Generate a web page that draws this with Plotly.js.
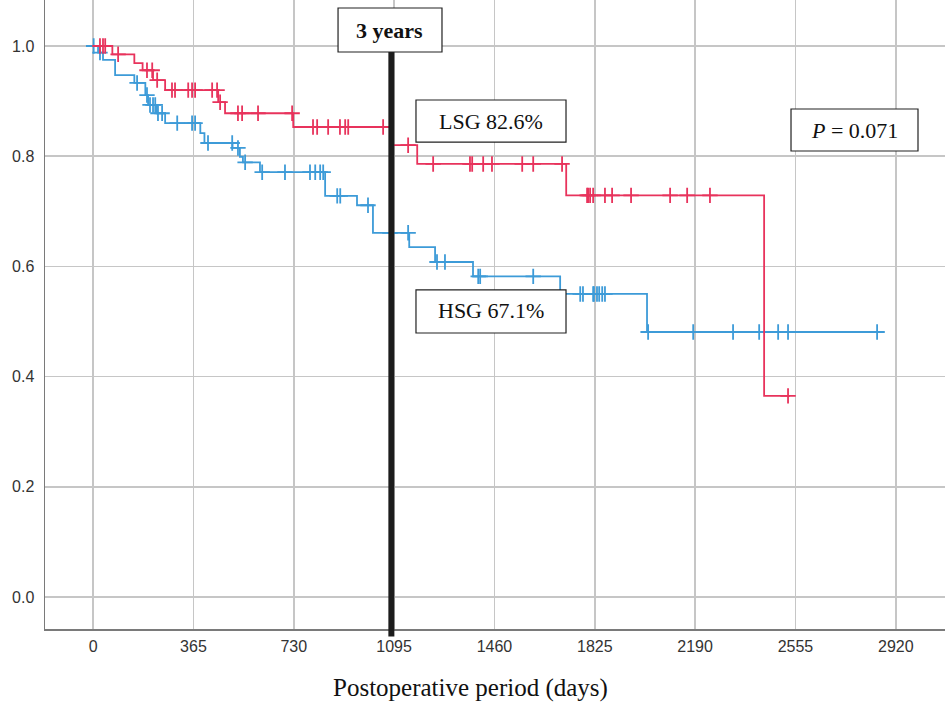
<!DOCTYPE html>
<html><head><meta charset="utf-8">
<script src="https://cdn.plot.ly/plotly-3.0.1.min.js"></script>
<style>html,body{margin:0;padding:0;background:#fff}#chart{width:945px;height:704px}</style>
</head><body><div id="chart"></div>
<script>
// Axis ticks
const xTickVals = [0, 365, 730, 1095, 1460, 1825, 2190, 2555, 2920];
const yTickVals = [0, 0.2, 0.4, 0.6, 0.8, 1.0];
const yTickText = ['0.0', '0.2', '0.4', '0.6', '0.8', '1.0'];
const threeYearLineDay = 1085;

// LSG (red) Kaplan-Meier: event days and survival after each event
const lsgEventDays = [70, 150, 180, 218, 262, 455, 480, 728, 1091, 1179, 1721, 2441];
const lsgEventSurv = [0.985, 0.969, 0.956, 0.938, 0.920, 0.898, 0.878, 0.853, 0.820, 0.786, 0.729, 0.365];
const lsgCensorDays = [25, 36, 44, 91, 196, 215, 233, 287, 298, 346, 360, 371, 433, 451, 462, 527, 542, 600, 724,
  800, 815, 855, 898, 917, 928, 1055, 1146, 1237, 1371, 1379, 1419, 1451, 1561, 1601, 1706, 1797, 1801, 1808,
  1819, 1862, 1888, 1957, 2099, 2161, 2244, 2528];
const lsgLastDay = 2535;

// HSG (blue) Kaplan-Meier
const hsgEventDays = [18, 36, 80, 150, 190, 200, 232, 262, 390, 405, 507, 534, 545, 607, 844, 960, 1018, 1150, 1244, 1382, 1699, 2015];
const hsgEventSurv = [0.988, 0.975, 0.947, 0.933, 0.911, 0.893, 0.878, 0.860, 0.842, 0.824, 0.815, 0.799, 0.789, 0.771, 0.728, 0.711, 0.661, 0.635, 0.608, 0.582, 0.550, 0.481];
const hsgCensorDays = [2, 25, 160, 196, 207, 218, 226, 236, 251, 306, 360, 371, 418, 506, 527, 553, 615, 698, 789, 808, 826, 837,
  888, 899, 1000, 1080, 1146, 1251, 1280, 1401, 1408, 1601, 1772, 1782, 1819, 1822, 1833, 1841, 1852, 1862,
  2019, 2183, 2328, 2423, 2492, 2528, 2852];
const hsgLastDay = 2874;

const labels = { lsg: 'LSG 82.6%', hsg: 'HSG 67.1%', p: '<i>P</i> = 0.071', years: '<b>3 years</b>', xTitle: 'Postoperative period (days)' };

const RED = '#e8335c', BLUE = '#3d9bd8';

function stepXY(days, surv, last) {
  return { x: [0].concat(days, [last]), y: [1].concat(surv, [surv[surv.length - 1]]) };
}
function survAt(t, days, surv) {
  let s = 1;
  for (let i = 0; i < days.length; i++) if (days[i] <= t) s = surv[i];
  return s;
}
const lsgStep = stepXY(lsgEventDays, lsgEventSurv, lsgLastDay);
const hsgStep = stepXY(hsgEventDays, hsgEventSurv, hsgLastDay);

const traces = [
  { x: hsgStep.x, y: hsgStep.y, mode: 'lines', line: { shape: 'hv', color: BLUE, width: 1.8 }, hoverinfo: 'skip' },
  { x: hsgCensorDays, y: hsgCensorDays.map(t => survAt(t, hsgEventDays, hsgEventSurv)), mode: 'markers',
    marker: { symbol: 'cross-thin', size: 11, line: { color: BLUE, width: 1.8 } }, hoverinfo: 'skip' },
  { x: lsgStep.x, y: lsgStep.y, mode: 'lines', line: { shape: 'hv', color: RED, width: 1.8 }, hoverinfo: 'skip' },
  { x: lsgCensorDays, y: lsgCensorDays.map(t => survAt(t, lsgEventDays, lsgEventSurv)), mode: 'markers',
    marker: { symbol: 'cross-thin', size: 11, line: { color: RED, width: 1.8 } }, hoverinfo: 'skip' }
];

const serif = 'Liberation Serif, Times New Roman, serif';
function box(x0, x1, y0, y1) {
  return { type: 'rect', xref: 'paper', yref: 'paper', x0, x1, y0, y1, fillcolor: '#fff', line: { color: '#222', width: 1.2 }, layer: 'above' };
}
const layout = {
  width: 945, height: 704,
  margin: { l: 45, r: 0, t: 0, b: 75 },
  paper_bgcolor: '#fff', plot_bgcolor: '#fff',
  showlegend: false,
  xaxis: {
    range: [-175, 3099], tickvals: xTickVals, ticktext: xTickVals.map(String),
    showgrid: true, gridcolor: '#c6c6c6', gridwidth: 1.6, zeroline: false,
    showline: true, linecolor: '#7a7a7a', linewidth: 1.5, ticks: '',
    ticklabelstandoff: 2,
    tickfont: { family: 'Liberation Sans, Arial, sans-serif', size: 16, color: '#333' }
  },
  yaxis: {
    range: [-0.058, 1.0835], tickvals: yTickVals, ticktext: yTickText,
    showgrid: true, gridcolor: '#c6c6c6', gridwidth: 1.6, zeroline: false,
    showline: true, linecolor: '#7a7a7a', linewidth: 1.5, ticks: '',
    ticklabelstandoff: 6,
    tickfont: { family: 'Liberation Sans, Arial, sans-serif', size: 16, color: '#333' }
  },
  shapes: [
    { type: 'line', xref: 'x', yref: 'paper', x0: threeYearLineDay, x1: threeYearLineDay, y0: -0.012, y1: 0.95, line: { color: '#1c1c1c', width: 6 }, layer: 'above' },
    box(0.3256, 0.4411, 0.9173, 0.9873),
    box(0.4122, 0.5789, 0.7742, 0.8410),
    box(0.4122, 0.5789, 0.4706, 0.5390),
    box(0.8289, 0.9700, 0.7599, 0.8267)
  ],
  annotations: [
    { xref: 'paper', yref: 'paper', x: 0.3833, y: 0.9523, text: labels.years, showarrow: false, xanchor: 'center', yanchor: 'middle', font: { family: serif, size: 22, color: '#111' } },
    { xref: 'paper', yref: 'paper', x: 0.4956, y: 0.8076, text: labels.lsg, showarrow: false, xanchor: 'center', yanchor: 'middle', font: { family: serif, size: 22, color: '#111' } },
    { xref: 'paper', yref: 'paper', x: 0.4956, y: 0.5056, text: labels.hsg, showarrow: false, xanchor: 'center', yanchor: 'middle', font: { family: serif, size: 22, color: '#111' } },
    { xref: 'paper', yref: 'paper', x: 0.8994, y: 0.7933, text: labels.p, showarrow: false, xanchor: 'center', yanchor: 'middle', font: { family: serif, size: 22, color: '#111' } },
    { xref: 'paper', yref: 'paper', x: 0.4733, y: -0.0938, text: labels.xTitle, showarrow: false, xanchor: 'center', yanchor: 'middle', font: { family: serif, size: 25, color: '#111' } }
  ]
};
Plotly.newPlot('chart', traces, layout, { staticPlot: true, displayModeBar: false });
</script>
</body></html>
